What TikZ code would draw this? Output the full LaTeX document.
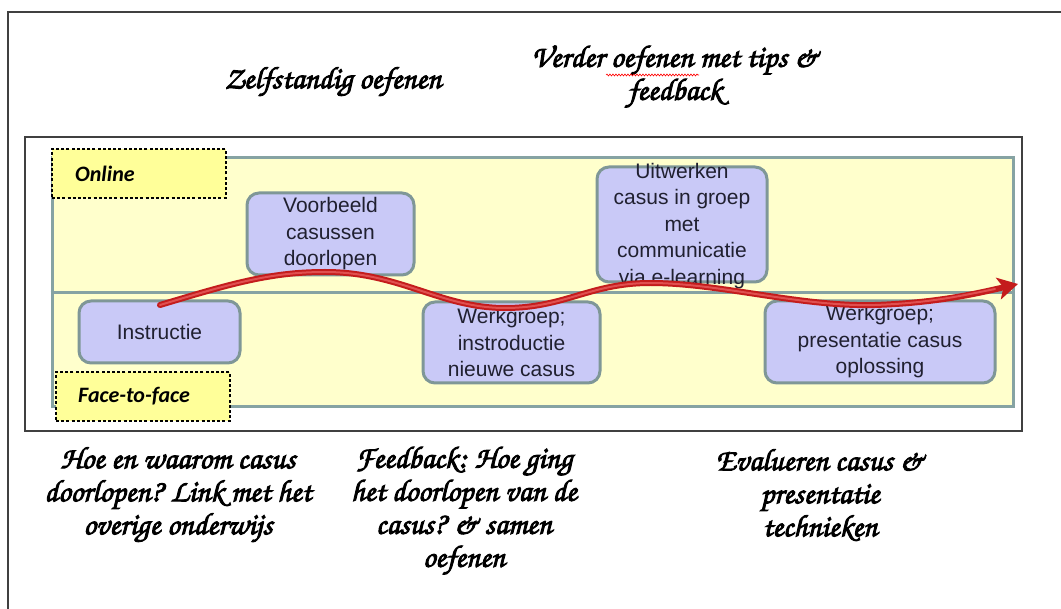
\documentclass[tikz,border=0pt]{standalone}
\usepackage[T1]{fontenc}
\usepackage{fontspec}
\setmainfont{Liberation Sans}
\newfontfamily\calib{Carlito}
\newcommand\handfont{\fontencoding{T1}\fontfamily{pzc}\fontseries{mb}\fontshape{it}\selectfont}
\usetikzlibrary{arrows.meta,decorations.pathmorphing}
\definecolor{laneyellow}{HTML}{FFFFCC}
\definecolor{laneedge}{HTML}{86A3A3}
\definecolor{boxfill}{HTML}{C9C9F7}
\definecolor{boxedge}{HTML}{7F9797}
\definecolor{boxtxt}{HTML}{202030}
\definecolor{tagyellow}{HTML}{FFFF99}
\definecolor{framegrey}{HTML}{404040}
\definecolor{arrowred}{HTML}{C41C1C}
\definecolor{arrowlight}{HTML}{E05050}
\begin{document}
\begin{tikzpicture}[x=1pt,y=-1pt,
  frame/.style={draw=framegrey,line width=1.4pt},
  lane/.style={fill=laneyellow,draw=laneedge,line width=3pt,inner sep=0pt},
  stepbox/.style={fill=boxfill,draw=boxedge,line width=3pt,rounded corners=12pt,inner sep=0pt},
  boxtext/.style={font=\fontsize{21}{26.5}\selectfont,text=boxtxt,align=center,inner sep=0pt},
  tag/.style={fill=tagyellow,draw=black,line width=2.5pt,dash pattern=on 3pt off 2.2pt,inner sep=0pt,minimum width=174pt,minimum height=49pt},
  tagtext/.style={font=\calib\bfseries\itshape\fontsize{22}{26}\selectfont,anchor=west,inner sep=0pt},
  hand/.style={font=\handfont\fontsize{31}{33}\selectfont,align=center,inner sep=0pt,
    execute at begin node={\special{pdf:literal direct 2 Tr 0.9 w}},
    execute at end node={\special{pdf:literal direct 0 Tr}}}
]
\useasboundingbox (0,0) rectangle (1061,609);
\fill[white] (0,0) rectangle (1061,609);
% frames
\draw[frame] (8,609) -- (8,12) -- (1061,12);
\draw[frame] (25,137) rectangle (1022,431);
% lanes
\node[lane,minimum width=961pt,minimum height=249pt] (lanes) at (532.5,282.5) {};
\draw[draw=laneedge,line width=3pt] (lanes.west |- 0,293) -- (lanes.east |- 0,293);
% tags
\node[tag] (online) at (139,173.5) {};
\node[tagtext] (onlinet) at (75,173.5) {Online};
\node[tag] (f2f) at (143,396.5) {};
\node[tagtext] (f2ft) at (78,396.5) {Face-to-face};
% steps
\node[stepbox,minimum width=161pt,minimum height=62pt] (instr) at (159.5,332) {};
\node[boxtext] (instrt) at (instr.center) {Instructie};
\node[stepbox,minimum width=167pt,minimum height=82pt] (voorb) at (330.5,234) {};
\node[boxtext] (voorbt) at (voorb.center) {Voorbeeld\\casussen\\doorlopen};
\node[stepbox,minimum width=177pt,minimum height=81pt] (werk1) at (511.5,342.5) {};
\node[boxtext] (werk1t) at (werk1.center) {Werkgroep;\\instroductie\\nieuwe casus};
\node[stepbox,minimum width=170pt,minimum height=115pt] (uitw) at (682,224.5) {};
\node[boxtext] (uitwt) at (682,226) {Uitwerken\\casus in groep\\met\\communicatie\\via e-learning};
\node[stepbox,minimum width=230pt,minimum height=82pt] (werk2) at (880,342) {};
\node[boxtext] (werk2t) at (werk2.center) {Werkgroep;\\presentatie casus\\oplossing};
% arrow
\coordinate (s) at (160,305);
\coordinate (p1) at (325,272);
\coordinate (t1) at (505,308);
\coordinate (p2) at (650,283);
\coordinate (t2) at (875,305);
\coordinate (e) at (1018,284);
\draw[arrowred,line width=6pt,line cap=round,-{Stealth[length=20pt,width=22pt,inset=5pt]}]
  (s) .. controls (230,284) and (270,272) .. (p1)
      .. controls (400,272) and (440,308) .. (t1)
      .. controls (565,308) and (590,283) .. (p2)
      .. controls (720,283) and (800,307) .. (t2)
      .. controls (935,303) and (975,294) .. (e);
\draw[arrowlight,line width=2pt,line cap=round]
  (s) .. controls (230,284) and (270,272) .. (p1)
      .. controls (400,272) and (440,308) .. (t1)
      .. controls (565,308) and (590,283) .. (p2)
      .. controls (720,283) and (800,307) .. (t2)
      .. controls (930,303) and (960,296) .. (995,289);
% handwritten notes
\node[hand] (zelf) at (333,82) {Zelfstandig oefenen};
\node[hand] (verder) at (675,77) {Verder oefenen met tips \&\\feedback};
\draw[red,line width=0.6pt,decorate,decoration={snake,amplitude=1pt,segment length=3pt}] (606,75) -- (699,75);
\node[hand] (hoe) at (178,495) {Hoe en waarom casus\\doorlopen? Link met het\\overige onderwijs};
\node[hand] (feed) at (464,511) {Feedback: Hoe ging\\het doorlopen van de\\casus? \& samen\\oefenen};
\node[hand] (eval) at (820,495) {Evalueren casus \&\\presentatie\\technieken};
\end{tikzpicture}
\end{document}
